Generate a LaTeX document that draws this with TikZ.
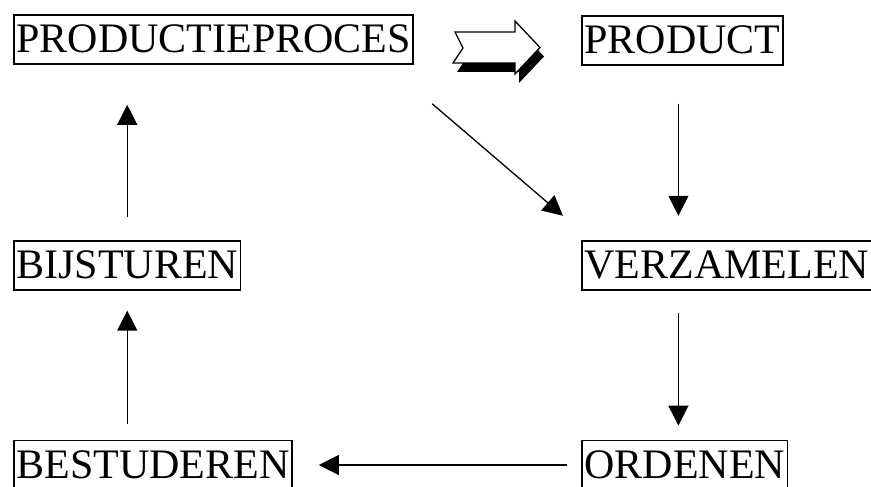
\documentclass[tikz,border=0pt]{standalone}
\usepackage{fontspec}
\setmainfont{Liberation Serif}
\usepackage{tikz}
\usetikzlibrary{arrows.meta, positioning, calc}

\begin{document}
\begin{tikzpicture}[
    x=1pt, y=-1pt,
    % Framed step boxes
    stepbox/.style={rectangle, draw=black, line width=1.8pt, inner xsep=2.5pt,
                    inner ysep=0pt, text height=38pt, text depth=11pt,
                    font=\fontsize{42}{42}\selectfont, anchor=north west},
    arrow/.style={-{Triangle[length=20pt, width=20pt]}, line width=1.3pt, black},
    node distance=150pt
]
\useasboundingbox (0,0) rectangle (871,487);

%-------- TOP ROW --------
\node[stepbox] (proces) at (13,14) {PRODUCTIEPROCES};
\node[stepbox] (product) at (581,15) {PRODUCT};

%-------- MIDDLE ROW --------
\node[stepbox, below=175pt of proces.south west, anchor=north west] (bijsturen) {BIJSTUREN};
\node[stepbox, below=174pt of product.south west, anchor=north west] (verzamelen) {VERZAMELEN};

%-------- BOTTOM ROW --------
\node[stepbox, below=149pt of bijsturen.south west, anchor=north west] (bestuderen) {BESTUDEREN};
\node[stepbox, below=149pt of verzamelen.south west, anchor=north west] (ordenen) {ORDENEN};

%-------- BLOCK ARROW (with shadow) --------
\fill[black, shift={(4,9)}]
    (455,32) -- (515,32) -- (515,21) -- (540,47.5) -- (515,74) -- (515,63)
    -- (453,63) -- (463,48) -- cycle;
\filldraw[fill=white, draw=black, line width=1.3pt, line join=miter]
    (455,32) -- (515,32) -- (515,21) -- (540,47.5) -- (515,74) -- (515,63)
    -- (453,63) -- (463,48) -- cycle;

%-------- ARROWS: cycle --------
\draw[arrow, shorten <=38pt, shorten >=24pt]
    ([xshift=-4]product.south) -- ([xshift=-4]product.south |- verzamelen.north);
\draw[arrow, shorten <=22pt, shorten >=14pt]
    ([xshift=-4]product.south |- verzamelen.south) -- ([xshift=-4]product.south |- ordenen.north);
\draw[arrow, shorten <=14pt, shorten >=26pt] (ordenen.west) -- (bestuderen.east);
\draw[arrow, shorten <=16pt, shorten >=20pt]
    (bestuderen.north -| bijsturen.south) -- (bijsturen.south);
\draw[arrow, shorten <=23pt, shorten >=40pt]
    (bijsturen.north) -- (bijsturen.north |- proces.south);
\draw[arrow] ([shift={(18,39)}]proces.south east) -- ([shift={(-18,-24)}]verzamelen.north west);

\end{tikzpicture}
\end{document}
